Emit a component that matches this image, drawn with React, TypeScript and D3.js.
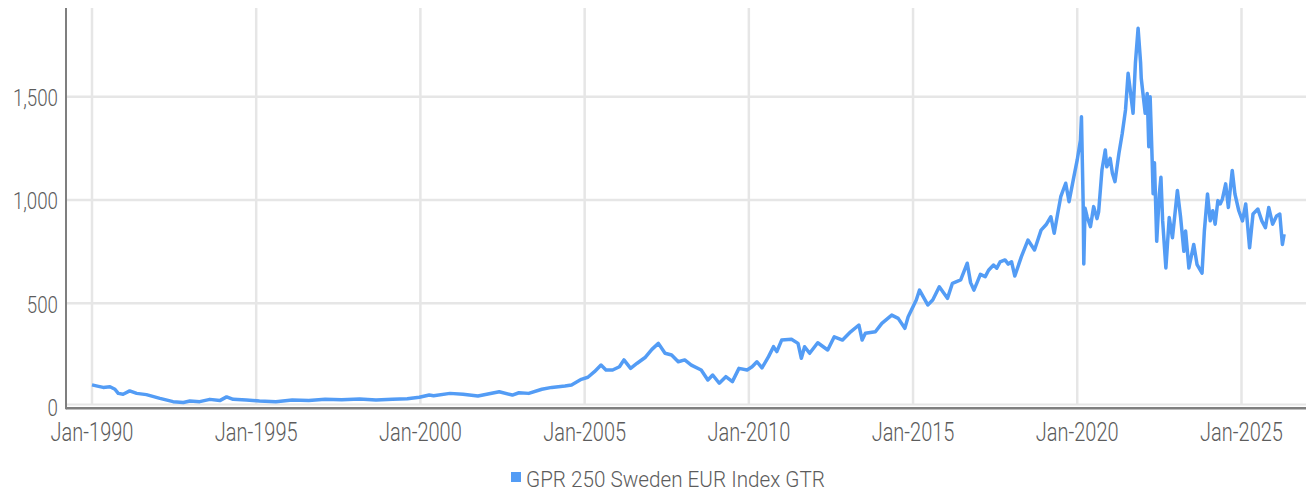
import React, { useEffect, useRef } from 'react'
import * as d3 from 'd3'

const seriesName = 'GPR 250 Sweden EUR Index GTR'

// index level, [date, value]
const gprSweden: [string, number][] = [
  ['1990-01-01', 105], ['1990-03-14', 98], ['1990-05-06', 93], ['1990-07-20', 96], ['1990-09-13', 84],
  ['1990-10-20', 64], ['1990-12-13', 60], ['1991-02-24', 76], ['1991-05-13', 64],
  ['1991-08-29', 58], ['1992-01-26', 40], ['1992-06-21', 24], ['1992-10-13', 20],
  ['1992-12-24', 27], ['1993-04-13', 24], ['1993-08-04', 35], ['1993-11-22', 29],
  ['1994-02-06', 47], ['1994-04-20', 35], ['1994-09-13', 32], ['1995-02-06', 27],
  ['1995-08-08', 24], ['1996-02-06', 32], ['1996-08-08', 30], ['1997-02-06', 35],
  ['1997-08-08', 33], ['1998-02-24', 37], ['1998-08-26', 32], ['1999-02-24', 35],
  ['1999-08-08', 38], ['1999-12-20', 45], ['2000-04-09', 56], ['2000-05-27', 53],
  ['2000-11-25', 64], ['2001-04-20', 60], ['2001-10-02', 51], ['2002-05-27', 72],
  ['2002-10-20', 56], ['2003-01-01', 67], ['2003-04-20', 64], ['2003-09-13', 84],
  ['2004-01-01', 93], ['2004-05-27', 100], ['2004-08-08', 105], ['2004-11-25', 132],
  ['2005-02-06', 142], ['2005-04-20', 169], ['2005-07-02', 201], ['2005-08-26', 177],
  ['2005-11-08', 177], ['2006-01-23', 193], ['2006-03-14', 226], ['2006-05-27', 185],
  ['2006-08-08', 210], ['2006-11-08', 239], ['2007-01-19', 277], ['2007-04-01', 306],
  ['2007-06-14', 258], ['2007-08-26', 250], ['2007-11-08', 217], ['2008-01-19', 226],
  ['2008-04-01', 201], ['2008-07-20', 177], ['2008-10-02', 129], ['2008-11-25', 153],
  ['2009-02-06', 113], ['2009-04-20', 145], ['2009-07-02', 121], ['2009-09-13', 185],
  ['2009-12-13', 177], ['2010-02-06', 193], ['2010-04-01', 217], ['2010-05-27', 187],
  ['2010-08-08', 242], ['2010-10-02', 290], ['2010-11-08', 266], ['2011-01-01', 322],
  ['2011-04-20', 326], ['2011-07-02', 306], ['2011-08-08', 234], ['2011-09-13', 290],
  ['2011-11-08', 258], ['2012-02-06', 309], ['2012-05-27', 274], ['2012-08-08', 338],
  ['2012-11-08', 322], ['2013-02-06', 362], ['2013-05-09', 395], ['2013-06-14', 322],
  ['2013-07-20', 355], ['2013-11-08', 362], ['2014-01-19', 403], ['2014-05-09', 443],
  ['2014-07-20', 427], ['2014-10-02', 379], ['2014-11-08', 435], ['2015-02-06', 516],
  ['2015-03-14', 564], ['2015-06-14', 492], ['2015-08-08', 516], ['2015-10-20', 580],
  ['2016-01-19', 524], ['2016-03-14', 597], ['2016-06-14', 613], ['2016-08-26', 694],
  ['2016-10-02', 600], ['2016-11-08', 564], ['2016-12-13', 600], ['2017-01-19', 640],
  ['2017-03-14', 629], ['2017-04-20', 660], ['2017-06-14', 685], ['2017-07-20', 670],
  ['2017-08-26', 700], ['2017-10-20', 710], ['2017-11-25', 690],
  ['2018-01-01', 701], ['2018-02-06', 632], ['2018-04-20', 726], ['2018-07-02', 806],
  ['2018-09-13', 758], ['2018-11-25', 854], ['2019-01-19', 880], ['2019-03-14', 919],
  ['2019-04-20', 839], ['2019-05-27', 930],
  ['2019-07-02', 1016], ['2019-08-26', 1081], ['2019-10-02', 992], ['2019-11-25', 1113],
  ['2020-01-01', 1194], ['2020-02-06', 1290], ['2020-02-17', 1403], ['2020-03-07', 985],
  ['2020-03-14', 690], ['2020-03-28', 960], ['2020-04-20', 919], ['2020-05-27', 871],
  ['2020-07-02', 968], ['2020-08-08', 910],
  ['2020-08-26', 943], ['2020-10-02', 1145], ['2020-11-08', 1242], ['2020-11-25', 1161],
  ['2021-01-01', 1202], ['2021-01-26', 1130], ['2021-02-24', 1089], ['2021-04-09', 1226],
  ['2021-05-16', 1323],
  ['2021-06-21', 1436], ['2021-07-20', 1613], ['2021-08-08', 1548], ['2021-09-13', 1420],
  ['2021-10-09', 1662], ['2021-11-08', 1831], ['2021-12-06', 1662], ['2021-12-13', 1589],
  ['2022-01-26', 1420], ['2022-02-17', 1516], ['2022-03-07', 1258], ['2022-03-22', 1500],
  ['2022-04-13', 1200], ['2022-04-24', 1030], ['2022-05-09', 1180], ['2022-06-03', 800],
  ['2022-07-02', 1030], ['2022-07-20', 1110], ['2022-08-08', 900], ['2022-09-13', 671],
  ['2022-10-20', 915], ['2022-11-25', 817], ['2023-01-19', 1046], ['2023-02-24', 915],
  ['2023-04-01', 752], ['2023-04-20', 850], ['2023-05-27', 671], ['2023-07-20', 785],
  ['2023-08-26', 687], ['2023-10-20', 646], ['2023-11-15', 850], ['2023-12-20', 1029],
  ['2024-01-19', 899], ['2024-02-17', 948], ['2024-03-14', 883], ['2024-04-13', 997],
  ['2024-05-09', 981], ['2024-06-03', 1005], ['2024-07-09', 1078], ['2024-08-08', 964],
  ['2024-09-20', 1143], ['2024-10-20', 1029], ['2024-12-02', 948], ['2025-01-12', 899],
  ['2025-02-17', 981], ['2025-04-01', 769], ['2025-05-09', 932], ['2025-07-02', 956],
  ['2025-08-15', 899], ['2025-09-24', 866], ['2025-10-31', 964], ['2025-12-13', 883],
  ['2026-01-26', 923], ['2026-03-03', 932], ['2026-03-22', 834], ['2026-04-01', 785],
  ['2026-04-20', 834],
]

const yTicks = [0, 500, 1000, 1500]
const xTickYears = [1990, 1995, 2000, 2005, 2010, 2015, 2020, 2025]

const lineColor = '#539cf5'
const textColor = '#5c5c5c'
const gridColor = '#e6e6e6'
const axisColor = '#7f7f7f'
const font = "Roboto, 'DejaVu Sans Condensed', sans-serif"

const App = () => {
  const svgRef = useRef(null)

  useEffect(() => {
    const svg = d3.select(svgRef.current)
    svg.selectAll('*').remove()

    const width = 1306
    const plotLeft = 66
    const plotTop = 8
    const gridBottom = 404.5
    const axisY = 408.3

    const parse = d3.utcParse('%Y-%m-%d')
    const data = gprSweden.map(([d, v]) => ({ date: parse(d) as Date, value: v }))

    const xScale = d3
      .scaleUtc()
      .domain([new Date(Date.UTC(1990, 0, 1)), new Date(Date.UTC(2025, 0, 1))])
      .range([92, 1241.5])

    const yScale = d3.scaleLinear().domain([0, 1500]).range([406.6, 96.7])

    const xTicks = xTickYears.map((y) => new Date(Date.UTC(y, 0, 1)))

    // grid
    const grid = svg.append('g')
    grid
      .selectAll('.hgrid')
      .data(yTicks.filter((t) => t > 0))
      .enter()
      .append('line')
      .attr('x1', plotLeft + 1)
      .attr('x2', width)
      .attr('y1', (d) => yScale(d))
      .attr('y2', (d) => yScale(d))
      .attr('stroke', gridColor)
      .attr('stroke-width', 2.5)
    grid
      .append('line')
      .attr('x1', plotLeft + 1)
      .attr('x2', width)
      .attr('y1', gridBottom)
      .attr('y2', gridBottom)
      .attr('stroke', gridColor)
      .attr('stroke-width', 2)
    grid
      .selectAll('.vgrid')
      .data(xTicks)
      .enter()
      .append('line')
      .attr('x1', (d) => xScale(d))
      .attr('x2', (d) => xScale(d))
      .attr('y1', plotTop)
      .attr('y2', gridBottom)
      .attr('stroke', gridColor)
      .attr('stroke-width', 2.5)

    // series
    const line = d3
      .line<{ date: Date; value: number }>()
      .x((d) => xScale(d.date))
      .y((d) => yScale(d.value))
    svg
      .append('path')
      .datum(data)
      .attr('d', line)
      .attr('fill', 'none')
      .attr('stroke', lineColor)
      .attr('stroke-width', 3.5)
      .attr('stroke-linejoin', 'round')

    // axes
    svg
      .append('line')
      .attr('x1', plotLeft)
      .attr('x2', plotLeft)
      .attr('y1', plotTop)
      .attr('y2', axisY + 1)
      .attr('stroke', axisColor)
      .attr('stroke-width', 2)
    svg
      .append('line')
      .attr('x1', plotLeft)
      .attr('x2', width)
      .attr('y1', axisY)
      .attr('y2', axisY)
      .attr('stroke', axisColor)
      .attr('stroke-width', 2.5)

    // condensed look: squeeze Roboto horizontally
    svg
      .selectAll('.ylab')
      .data(yTicks)
      .enter()
      .append('text')
      .attr('transform', (d) => `translate(58,${yScale(d) + 1}) scale(0.78,1)`)
      .attr('text-anchor', 'end')
      .attr('dominant-baseline', 'central')
      .style('font-family', font)
      .style('font-weight', 300)
      .style('font-size', '24px')
      .style('fill', textColor)
      .text((d) => d3.format(',')(d))

    svg
      .selectAll('.xlab')
      .data(xTicks)
      .enter()
      .append('text')
      .attr('transform', (d) => `translate(${xScale(d)},441) scale(0.8,1)`)
      .attr('text-anchor', 'middle')
      .style('font-family', font)
      .style('font-weight', 300)
      .style('font-size', '25px')
      .style('fill', textColor)
      .text((d) => d3.utcFormat('%b-%Y')(d))

    // legend
    const legend = svg.append('g')
    legend
      .append('rect')
      .attr('x', 511)
      .attr('y', 472)
      .attr('width', 10)
      .attr('height', 10)
      .attr('fill', lineColor)
    legend
      .append('text')
      .attr('transform', 'translate(526,486.5) scale(0.94,1)')
      .style('font-family', font)
      .style('font-weight', 300)
      .style('font-size', '22px')
      .style('fill', textColor)
      .text(seriesName)
  }, [])

  return (
    <svg
      ref={svgRef}
      width={1306}
      height={493}
      style={{ position: 'absolute', left: 0, top: 0, background: '#fff' }}
    ></svg>
  )
}

export default App
